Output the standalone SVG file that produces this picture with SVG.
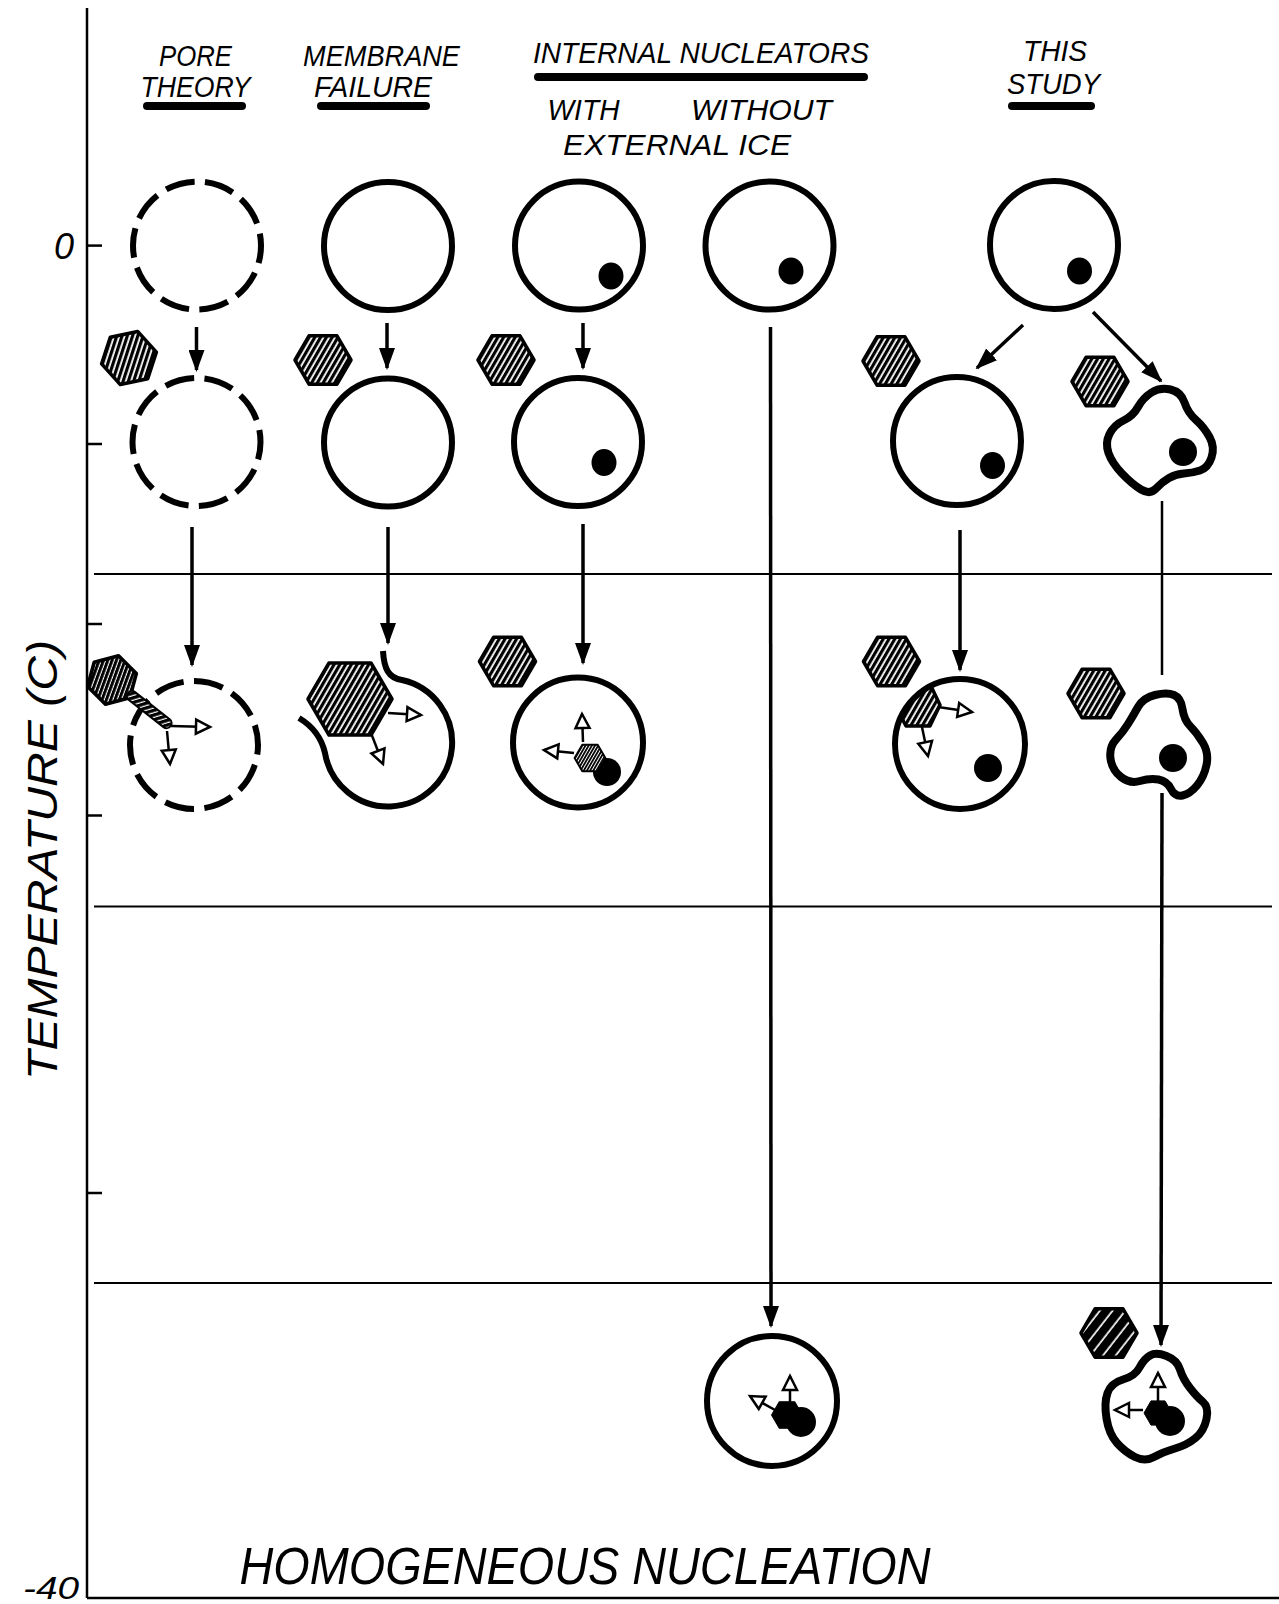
<svg xmlns="http://www.w3.org/2000/svg" width="1279" height="1604" viewBox="0 0 1279 1604">
  <style>
    .lbl { font-family: "Liberation Sans", Arial, sans-serif; font-style: italic; fill: #000; }
    .hd { font-size: 30px; }
    .ax { stroke: #000; stroke-width: 2.5; fill: none; }
    .rule { stroke: #000; stroke-width: 2; fill: none; }
    .bar { stroke: #000; stroke-width: 8; stroke-linecap: round; }
    .cell { fill: none; stroke: #000; stroke-width: 6; }
    .dash { stroke-dasharray: 7.4 2.6; }
    .blob { fill: #fff; stroke: #000; stroke-width: 8; stroke-linejoin: round; }
    .nuc { fill: #000; }
    .hex { fill: url(#hatch); stroke: #000; stroke-width: 3.5; stroke-linejoin: round; }
    .arr { stroke: #000; stroke-width: 3.5; fill: none; marker-end: url(#ah); }
    .oarr { stroke: #000; stroke-width: 2.5; fill: none; marker-end: url(#oh); }
  </style>
  <defs>
    <pattern id="hatch" width="5" height="5" patternUnits="userSpaceOnUse" patternTransform="rotate(30)">
      <rect width="5" height="5" fill="#fff"/>
      <rect width="3.2" height="5" fill="#000"/>
    </pattern>
    <pattern id="hatchDark" width="4.5" height="4.5" patternUnits="userSpaceOnUse" patternTransform="rotate(35)">
      <rect width="4.5" height="4.5" fill="#fff"/>
      <rect width="3.3" height="4.5" fill="#000"/>
    </pattern>
    <pattern id="hatchWide" width="10" height="10" patternUnits="userSpaceOnUse" patternTransform="rotate(38)">
      <rect width="10" height="10" fill="#fff"/>
      <rect width="8.3" height="10" fill="#000"/>
    </pattern>
    <polygon id="hx" points="-28,0 -14,-24.2 14,-24.2 28,0 14,24.2 -14,24.2"/>
    <marker id="ah" markerUnits="userSpaceOnUse" viewBox="0 0 22 16" markerWidth="22" markerHeight="16" refX="20" refY="8" orient="auto">
      <path d="M0,0 L22,8 L0,16 Z" fill="#000"/>
    </marker>
    <marker id="oh" markerUnits="userSpaceOnUse" viewBox="-2 -2 18 18" markerWidth="18" markerHeight="18" refX="14" refY="7" orient="auto" overflow="visible">
      <path d="M0,0 L14,7 L0,14 Z" fill="#fff" stroke="#000" stroke-width="2.5" stroke-linejoin="miter"/>
    </marker>
    <clipPath id="cellClip5a">
      <circle cx="960" cy="744" r="64"/>
    </clipPath>
  </defs>

  <rect width="1279" height="1604" fill="#fff"/>

  <!-- temperature axis -->
  <g id="axis">
    <line class="ax" x1="87" y1="8" x2="87" y2="1598"/>
    <line class="ax" x1="87" y1="1598" x2="1279" y2="1598"/>
    <line class="ax" x1="87" y1="245.6" x2="102" y2="245.6"/>
    <line class="ax" x1="87" y1="444" x2="102" y2="444"/>
    <line class="ax" x1="87" y1="624" x2="102" y2="624"/>
    <line class="ax" x1="87" y1="815.5" x2="102" y2="815.5"/>
    <line class="ax" x1="87" y1="1193" x2="102" y2="1193"/>
    <line class="rule" x1="94" y1="574" x2="1272" y2="574"/>
    <line class="rule" x1="94" y1="906.5" x2="1272" y2="906.5"/>
    <line class="rule" x1="94" y1="1283" x2="1272" y2="1283"/>
    <text class="lbl" x="64" y="259" font-size="36" text-anchor="middle">0</text>
    <text class="lbl" x="51" y="1599" font-size="32" text-anchor="middle" textLength="56" lengthAdjust="spacingAndGlyphs">-40</text>
    <text class="lbl" transform="translate(57,860) rotate(-90)" x="0" y="0" font-size="43" text-anchor="middle" textLength="440" lengthAdjust="spacingAndGlyphs">TEMPERATURE (C)</text>
    <text class="lbl" x="585" y="1584" font-size="51" text-anchor="middle" textLength="691" lengthAdjust="spacingAndGlyphs">HOMOGENEOUS  NUCLEATION</text>
  </g>

  <!-- column headings -->
  <g id="heading-pore">
    <text class="lbl hd" x="195.5" y="66" text-anchor="middle" textLength="73" lengthAdjust="spacingAndGlyphs">PORE</text>
    <text class="lbl hd" x="195.5" y="97" text-anchor="middle" textLength="110" lengthAdjust="spacingAndGlyphs">THEORY</text>
    <line class="bar" x1="147" y1="106" x2="242" y2="106"/>
  </g>
  <g id="heading-membrane">
    <text class="lbl hd" x="381.5" y="66" text-anchor="middle" textLength="157" lengthAdjust="spacingAndGlyphs">MEMBRANE</text>
    <text class="lbl hd" x="373" y="97" text-anchor="middle" textLength="118" lengthAdjust="spacingAndGlyphs">FAILURE</text>
    <line class="bar" x1="321" y1="106" x2="426" y2="106"/>
  </g>
  <g id="heading-internal">
    <text class="lbl hd" x="701" y="63" text-anchor="middle" textLength="336" lengthAdjust="spacingAndGlyphs">INTERNAL NUCLEATORS</text>
    <line class="bar" x1="538" y1="77" x2="864" y2="77"/>
    <text class="lbl hd" x="583.5" y="120" text-anchor="middle" textLength="72" lengthAdjust="spacingAndGlyphs">WITH</text>
    <text class="lbl hd" x="761.5" y="120" text-anchor="middle" textLength="141" lengthAdjust="spacingAndGlyphs">WITHOUT</text>
    <text class="lbl hd" x="677" y="155" text-anchor="middle" textLength="228" lengthAdjust="spacingAndGlyphs">EXTERNAL ICE</text>
  </g>
  <g id="heading-study">
    <text class="lbl hd" x="1055" y="61" text-anchor="middle" textLength="64" lengthAdjust="spacingAndGlyphs">THIS</text>
    <text class="lbl hd" x="1053.5" y="94" text-anchor="middle" textLength="93" lengthAdjust="spacingAndGlyphs">STUDY</text>
    <line class="bar" x1="1012" y1="106" x2="1091" y2="106"/>
  </g>

  <!-- connectors -->
  <g id="connectors">
    <line class="arr" x1="196.5" y1="327" x2="196.5" y2="370"/>
    <line class="arr" x1="387" y1="323" x2="387" y2="368"/>
    <line class="arr" x1="583" y1="323" x2="583" y2="368"/>
    <line class="arr" x1="1023" y1="325" x2="977" y2="368"/>
    <line class="arr" x1="1093" y1="312" x2="1161" y2="381"/>
    <line class="arr" x1="192" y1="527" x2="192" y2="665"/>
    <line class="arr" x1="388" y1="527" x2="388" y2="643"/>
    <line class="arr" x1="583" y1="524" x2="583" y2="663"/>
    <line class="arr" x1="960" y1="530" x2="960" y2="670"/>
    <line class="ax" x1="1162" y1="501" x2="1162" y2="675" stroke-width="3.5"/>
    <line class="arr" x1="1162" y1="793" x2="1161" y2="1345"/>
    <line class="arr" x1="770.5" y1="327" x2="771" y2="1326"/>
  </g>

  <!-- pore theory column -->
  <g id="pore-0">
    <circle class="cell dash" cx="197" cy="245.6" r="64" pathLength="100" stroke-dashoffset="3"/>
  </g>
  <g id="pore-1">
    <use href="#hx" class="hex" transform="translate(129,358) rotate(-12)"/>
    <circle class="cell dash" cx="196.5" cy="442" r="64" pathLength="100" stroke-dashoffset="3"/>
  </g>
  <g id="pore-2">
    <circle class="cell dash" cx="194" cy="745" r="64" pathLength="100" stroke-dashoffset="5"/>
    <use href="#hx" fill="url(#hatchDark)" stroke="#000" stroke-width="4" stroke-linejoin="round" transform="translate(112,680) rotate(-15) scale(0.9)"/>
    <rect x="0" y="-5" width="54" height="10" rx="5" fill="url(#hatchDark)" stroke="#000" stroke-width="2" transform="translate(128,693) rotate(38)"/>
    <line class="oarr" x1="171" y1="726" x2="210" y2="727"/>
    <line class="oarr" x1="167" y1="731" x2="170" y2="764"/>
  </g>

  <!-- membrane failure column -->
  <g id="membrane-0">
    <circle class="cell" cx="388" cy="246" r="64"/>
  </g>
  <g id="membrane-1">
    <use href="#hx" class="hex" transform="translate(323,360)"/>
    <circle class="cell" cx="388" cy="442.5" r="64"/>
  </g>
  <g id="membrane-2">
    <path class="cell" d="M383,651 C384,668 388,678 402,680 A64,64 0 1,1 325,753 C322,740 314,727 299,718"/>
    <polygon class="hex" points="308,699 329,663 371,663 392,699 371,735 329,735"/>
    <line class="oarr" x1="388" y1="713" x2="421" y2="715"/>
    <line class="oarr" x1="371" y1="733" x2="383" y2="764"/>
  </g>

  <!-- internal nucleators, with external ice -->
  <g id="internal-with-0">
    <circle class="cell" cx="579" cy="245.6" r="64"/>
    <ellipse class="nuc" cx="611" cy="276" rx="12.5" ry="13.5"/>
  </g>
  <g id="internal-with-1">
    <use href="#hx" class="hex" transform="translate(506,360)"/>
    <circle class="cell" cx="578" cy="442" r="64"/>
    <ellipse class="nuc" cx="604" cy="462.5" rx="12.5" ry="13.5"/>
  </g>
  <g id="internal-with-2">
    <use href="#hx" class="hex" transform="translate(507.5,661.5)"/>
    <circle class="cell" cx="578" cy="742.5" r="65"/>
    <circle class="nuc" cx="607" cy="772" r="14"/>
    <use href="#hx" class="hex" stroke-width="3" transform="translate(590,758) scale(0.55)"/>
    <line class="oarr" x1="583" y1="742" x2="582" y2="714"/>
    <line class="oarr" x1="574" y1="753" x2="544" y2="750"/>
  </g>

  <!-- internal nucleators, without external ice -->
  <g id="internal-without-0">
    <circle class="cell" cx="769.5" cy="245.6" r="64"/>
    <ellipse class="nuc" cx="791" cy="271" rx="12.5" ry="13.5"/>
  </g>
  <g id="internal-without-1">
    <circle class="cell" cx="772" cy="1401" r="65"/>
    <circle class="nuc" cx="801" cy="1422" r="15"/>
    <use href="#hx" fill="#000" stroke="#000" stroke-width="2" transform="translate(787,1415) scale(0.55)"/>
    <line class="oarr" x1="790" y1="1402" x2="790" y2="1376"/>
    <line class="oarr" x1="775" y1="1410" x2="750" y2="1396"/>
  </g>

  <!-- this study column -->
  <g id="study-0">
    <circle class="cell" cx="1054" cy="245" r="64"/>
    <ellipse class="nuc" cx="1079.5" cy="271" rx="12.5" ry="13.5"/>
  </g>
  <g id="study-a1">
    <use href="#hx" class="hex" transform="translate(891,361)"/>
    <circle class="cell" cx="957" cy="441" r="64"/>
    <ellipse class="nuc" cx="992.5" cy="465.5" rx="12.5" ry="13.5"/>
  </g>
  <g id="study-a2">
    <use href="#hx" class="hex" transform="translate(891.5,661.5)"/>
    <polygon class="hex" clip-path="url(#cellClip5a)" points="895,705 906,684 930,684 940,705 930,726 906,726"/>
    <circle class="cell" cx="960" cy="744" r="65"/>
    <circle class="nuc" cx="988" cy="768" r="14"/>
    <line class="oarr" x1="938" y1="707" x2="972" y2="712"/>
    <line class="oarr" x1="922" y1="727" x2="928" y2="756"/>
  </g>
  <g id="study-b1">
    <use href="#hx" class="hex" transform="translate(1100,381.5)"/>
    <path class="blob" d="M1151.5,392.5 Q1160,387 1170.5,389.5 Q1181,392 1184.5,402.5 Q1188,413 1196,420 Q1204,427 1209.5,437 Q1215,447 1211.5,457.5 Q1208,468 1200,470.5 Q1192,473 1184,473.5 Q1176,474 1169,478 Q1162,482 1156,488.5 Q1150,495 1141,489.5 Q1132,484 1122,473.5 Q1112,463 1108.5,453 Q1105,443 1109.5,434 Q1114,425 1123.5,420.5 Q1133,416 1138,407 Q1143,398 1151.5,392.5 Z"/>
    <circle class="nuc" cx="1183" cy="452" r="14"/>
  </g>
  <g id="study-b2">
    <use href="#hx" class="hex" transform="translate(1096,693.5)"/>
    <path class="blob" d="M1138,707 Q1143,698 1155,695 Q1167,692 1174,695 Q1181,698 1182.5,709 Q1184,720 1190.5,726.5 Q1197,733 1203,743 Q1209,753 1206.5,765 Q1204,777 1197,785.5 Q1190,794 1182.5,795.5 Q1175,797 1171,789 Q1167,781 1158.5,779.5 Q1150,778 1140,781 Q1130,784 1121,777 Q1112,770 1110.5,758.5 Q1109,747 1116,739.5 Q1123,732 1128,724 Q1133,716 1138,707 Z"/>
    <circle class="nuc" cx="1173" cy="758" r="14"/>
  </g>
  <g id="study-b3">
    <use href="#hx" fill="url(#hatchWide)" stroke="#000" stroke-width="3.5" stroke-linejoin="round" transform="translate(1109,1333)"/>
    <path class="blob" d="M1150,1355.5 Q1156,1352 1166.5,1356 Q1177,1360 1180,1369.5 Q1183,1379 1190,1388 Q1197,1397 1203,1402 Q1209,1407 1206.5,1419 Q1204,1431 1195.5,1438 Q1187,1445 1175,1448.5 Q1163,1452 1154,1457 Q1145,1462 1135,1457 Q1125,1452 1117,1443 Q1109,1434 1106.5,1418.5 Q1104,1403 1107.5,1393 Q1111,1383 1123,1379.5 Q1135,1376 1139.5,1367.5 Q1144,1359 1150,1355.5 Z"/>
    <circle class="nuc" cx="1170" cy="1421" r="15"/>
    <use href="#hx" fill="#000" stroke="#000" stroke-width="2" transform="translate(1158,1413) scale(0.5)"/>
    <line class="oarr" x1="1158" y1="1401" x2="1158" y2="1373"/>
    <line class="oarr" x1="1143" y1="1410" x2="1115" y2="1410"/>
  </g>
</svg>
